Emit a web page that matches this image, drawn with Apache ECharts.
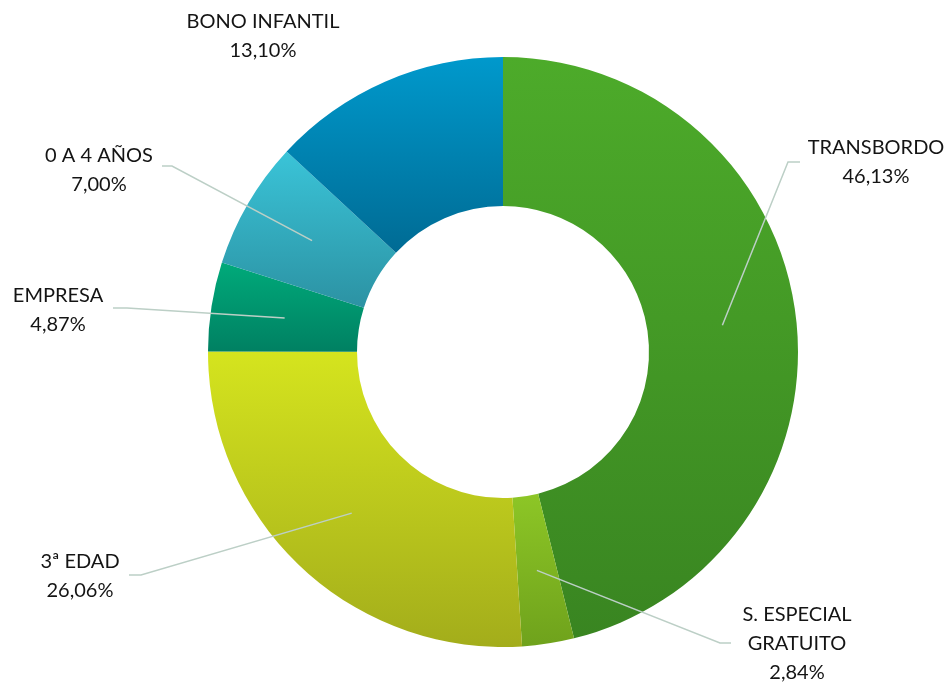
<!DOCTYPE html>
<html>
<head>
<meta charset="utf-8">
<script src="https://cdn.jsdelivr.net/npm/echarts@6/dist/echarts.min.js"></script>
<style>
  html, body { margin: 0; padding: 0; background: #fff; }
  #chart { width: 949px; height: 684px; }
</style>
</head>
<body>
<div id="chart"></div>
<script>
// datos del gráfico (sentido horario desde arriba)
const categories = ["TRANSBORDO", "S. ESPECIAL\nGRATUITO", "3ª EDAD", "EMPRESA", "0 A 4 AÑOS", "BONO INFANTIL"];
const percents = [46.13, 2.84, 26.06, 4.87, 7.0, 13.1];

// colores degradado: arriba / abajo
const colorTop = ["#4dab2a", "#8dc626", "#d5e41e", "#00aa7a", "#3ac4d8", "#0099cc"];
const colorBottom = ["#398521", "#6fa21c", "#a3ad1b", "#008062", "#2c92a3", "#006b94"];

// posición de cada etiqueta (centro del texto) y final de la línea guía
const labelSpots = [
  { x: 876, y: 162, lineX: 800, lineY: 162, elbow: -12 },
  { x: 797, y: 644, lineX: 731, lineY: 643, elbow: -11 },
  { x: 80, y: 576, lineX: 129, lineY: 575, elbow: 12 },
  { x: 58, y: 310, lineX: 113, lineY: 308, elbow: 14 },
  { x: 99, y: 170, lineX: 162, lineY: 166, elbow: 10 },
  { x: 263, y: 36, lineX: null }
];

const center = [503, 352];
const chart = echarts.init(document.getElementById("chart"));

const fmt = (v) => v.toFixed(2).replace(".", ",") + "%";

const ringData = categories.map((name, i) => ({
  name,
  value: percents[i],
  itemStyle: {
    color: new echarts.graphic.LinearGradient(0, 0, 0, 1, [
      { offset: 0, color: colorTop[i] },
      { offset: 1, color: colorBottom[i] },
    ]),
  },
}));

const labelData = categories.map((name, i) => ({
  name,
  value: percents[i],
  labelLine: { show: labelSpots[i].lineX != null },
}));

const option = {
  animation: false,
  series: [
    {
      type: "pie",
      center,
      radius: [146, 295],
      startAngle: 90,
      clockwise: true,
      silent: true,
      z: 2,
      label: { show: false },
      labelLine: { show: false },
      data: ringData,
    },
    {
      // serie invisible: sólo para anclar las líneas guía a media corona
      type: "pie",
      center,
      radius: [0, 221],
      startAngle: 90,
      clockwise: true,
      silent: true,
      z: 5,
      itemStyle: { color: "rgba(0,0,0,0)" },
      label: {
        show: true,
        position: "outside",
        fontFamily: "Lato",
        fontSize: 20,
        lineHeight: 29,
        color: "#141414",
        align: "center",
        formatter: (p) => p.name + "\n" + fmt(p.value),
      },
      labelLine: {
        show: true,
        length: 20,
        length2: 10,
        lineStyle: { color: "#bccfc6", width: 1.5 },
      },
      labelLayout: (params) => {
        const s = labelSpots[params.dataIndex];
        const out = { x: s.x, y: s.y, align: "center", verticalAlign: "middle" };
        if (s.lineX != null && params.labelLinePoints) {
          const a = params.labelLinePoints[0];
          out.labelLinePoints = [
            [a[0], a[1]],
            [s.lineX + s.elbow, s.lineY],
            [s.lineX, s.lineY],
          ];
        }
        return out;
      },
      data: labelData,
    },
  ],
};

chart.setOption(option);
</script>
</body>
</html>
